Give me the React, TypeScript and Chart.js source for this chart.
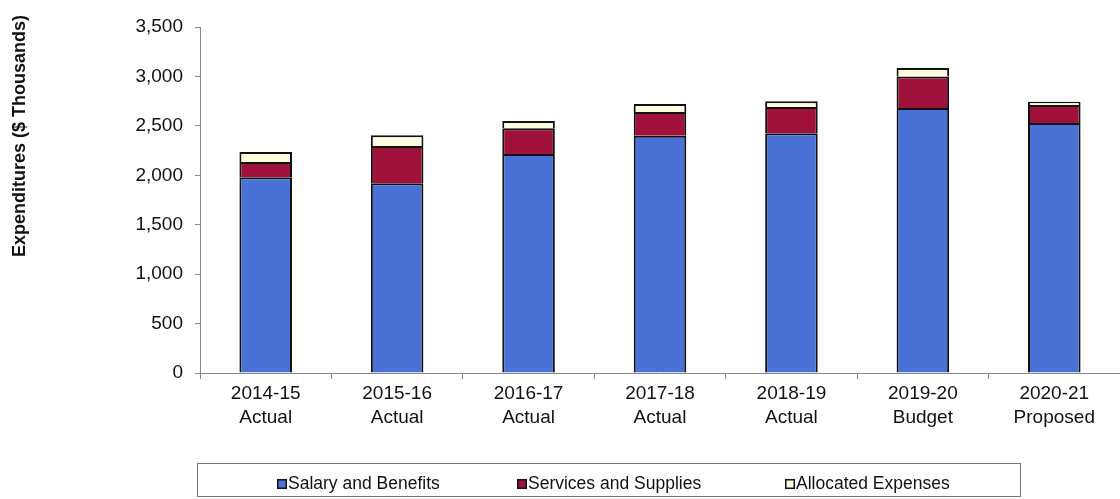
import React, { useEffect, useRef } from "react";
import { Chart, registerables } from "chart.js";

Chart.register(...registerables);

const categories: string[][] = [
  ["2014-15", "Actual"],
  ["2015-16", "Actual"],
  ["2016-17", "Actual"],
  ["2017-18", "Actual"],
  ["2018-19", "Actual"],
  ["2019-20", "Budget"],
  ["2020-21", "Proposed"],
];
const salaryAndBenefits = [1980, 1920, 2215, 2400, 2425, 2680, 2530];
const servicesAndSupplies = [155, 375, 260, 240, 265, 320, 180];
const allocatedExpenses = [100, 110, 75, 80, 60, 85, 35];
const yTicks = [0, 500, 1000, 1500, 2000, 2500, 3000, 3500];
const yTitle = "Expenditures ($ Thousands)";

const FONT = "'Liberation Sans', Arial, sans-serif";

const sidePlugin = {
  id: "sideDecor",
  afterDraw(chart: any) {
    const ctx = chart.ctx;
    ctx.save();
    // y title
    ctx.translate(20, 136);
    ctx.rotate(-Math.PI / 2);
    ctx.font = `bold 18px ${FONT}`;
    ctx.fillStyle = "#111";
    ctx.textAlign = "center";
    ctx.textBaseline = "middle";
    ctx.fillText(yTitle, 0, 0);
    ctx.restore();

    // legend
    ctx.save();
    ctx.strokeStyle = "#777";
    ctx.lineWidth = 1;
    ctx.strokeRect(197.5, 463.5, 823, 33);
    const xs = [277, 517, 785];
    ctx.font = `17.5px ${FONT}`;
    ctx.textBaseline = "middle";
    ctx.textAlign = "left";
    chart.data.datasets.forEach((ds: any, i: number) => {
      const x = xs[i];
      const y = 484;
      ctx.fillStyle = ds.backgroundColor;
      ctx.fillRect(x, y - 5, 10, 10);
      ctx.strokeStyle = "#111";
      ctx.lineWidth = 1.5;
      ctx.strokeRect(x + 0.75, y - 4.25, 8.5, 8.5);
      ctx.fillStyle = "#111";
      ctx.fillText(ds.label, x + 11, y);
    });
    ctx.restore();
  },
};

export default function App() {
  const ref = useRef<HTMLCanvasElement | null>(null);
  useEffect(() => {
    if (!ref.current) return;
    const chart = new Chart(ref.current, {
      type: "bar",
      data: {
        labels: categories,
        datasets: [
          {
            label: "Salary and Benefits",
            data: salaryAndBenefits,
            backgroundColor: "#4a72d6",
            borderColor: "#111",
            borderWidth: 2,
          },
          {
            label: "Services and Supplies",
            data: servicesAndSupplies,
            backgroundColor: "#a0113c",
            borderColor: "#111",
            borderWidth: 2,
          },
          {
            label: "Allocated Expenses",
            data: allocatedExpenses,
            backgroundColor: "#fffbe0",
            borderColor: "#111",
            borderWidth: 2,
          },
        ],
      },
      options: {
        animation: false,
        responsive: false,
        maintainAspectRatio: false,
        layout: { padding: { top: 27, right: 0, left: 0, bottom: 0 } },
        barPercentage: 0.4,
        categoryPercentage: 1,
        plugins: {
          legend: { display: false },
          tooltip: { enabled: false },
          title: { display: false },
        },
        scales: {
          x: {
            stacked: true,
            offset: true,
            grid: {
              display: true,
              drawOnChartArea: false,
              drawTicks: true,
              tickLength: 6,
              offset: true,
              color: "#888",
            },
            border: { display: true, color: "#888", width: 1 },
            ticks: {
              font: { family: FONT, size: 19, lineHeight: 1.25 },
              color: "#111",
              maxRotation: 0,
              autoSkip: false,
              padding: 3,
            },
            afterFit(scale: any) {
              scale.height = 126;
            },
          },
          y: {
            stacked: true,
            min: 0,
            max: 3500,
            afterBuildTicks(scale: any) {
              scale.ticks = yTicks.map((v) => ({ value: v }));
            },
            grid: {
              display: true,
              drawOnChartArea: false,
              drawTicks: true,
              tickLength: 5,
              color: "#888",
            },
            border: { display: true, color: "#888", width: 1 },
            ticks: {
              font: { family: FONT, size: 19 },
              color: "#111",
              padding: 12,
              callback: (v: any) => Number(v).toLocaleString("en-US"),
            },
            afterFit(scale: any) {
              scale.width = 200;
            },
          },
        },
      },
      plugins: [sidePlugin],
    });
    return () => chart.destroy();
  }, []);
  return (
    <div style={{ position: "fixed", left: 0, top: 0, width: 1120, height: 499, background: "#fff" }}>
      <canvas ref={ref} width={1120} height={499} style={{ width: 1120, height: 499 }} />
    </div>
  );
}
